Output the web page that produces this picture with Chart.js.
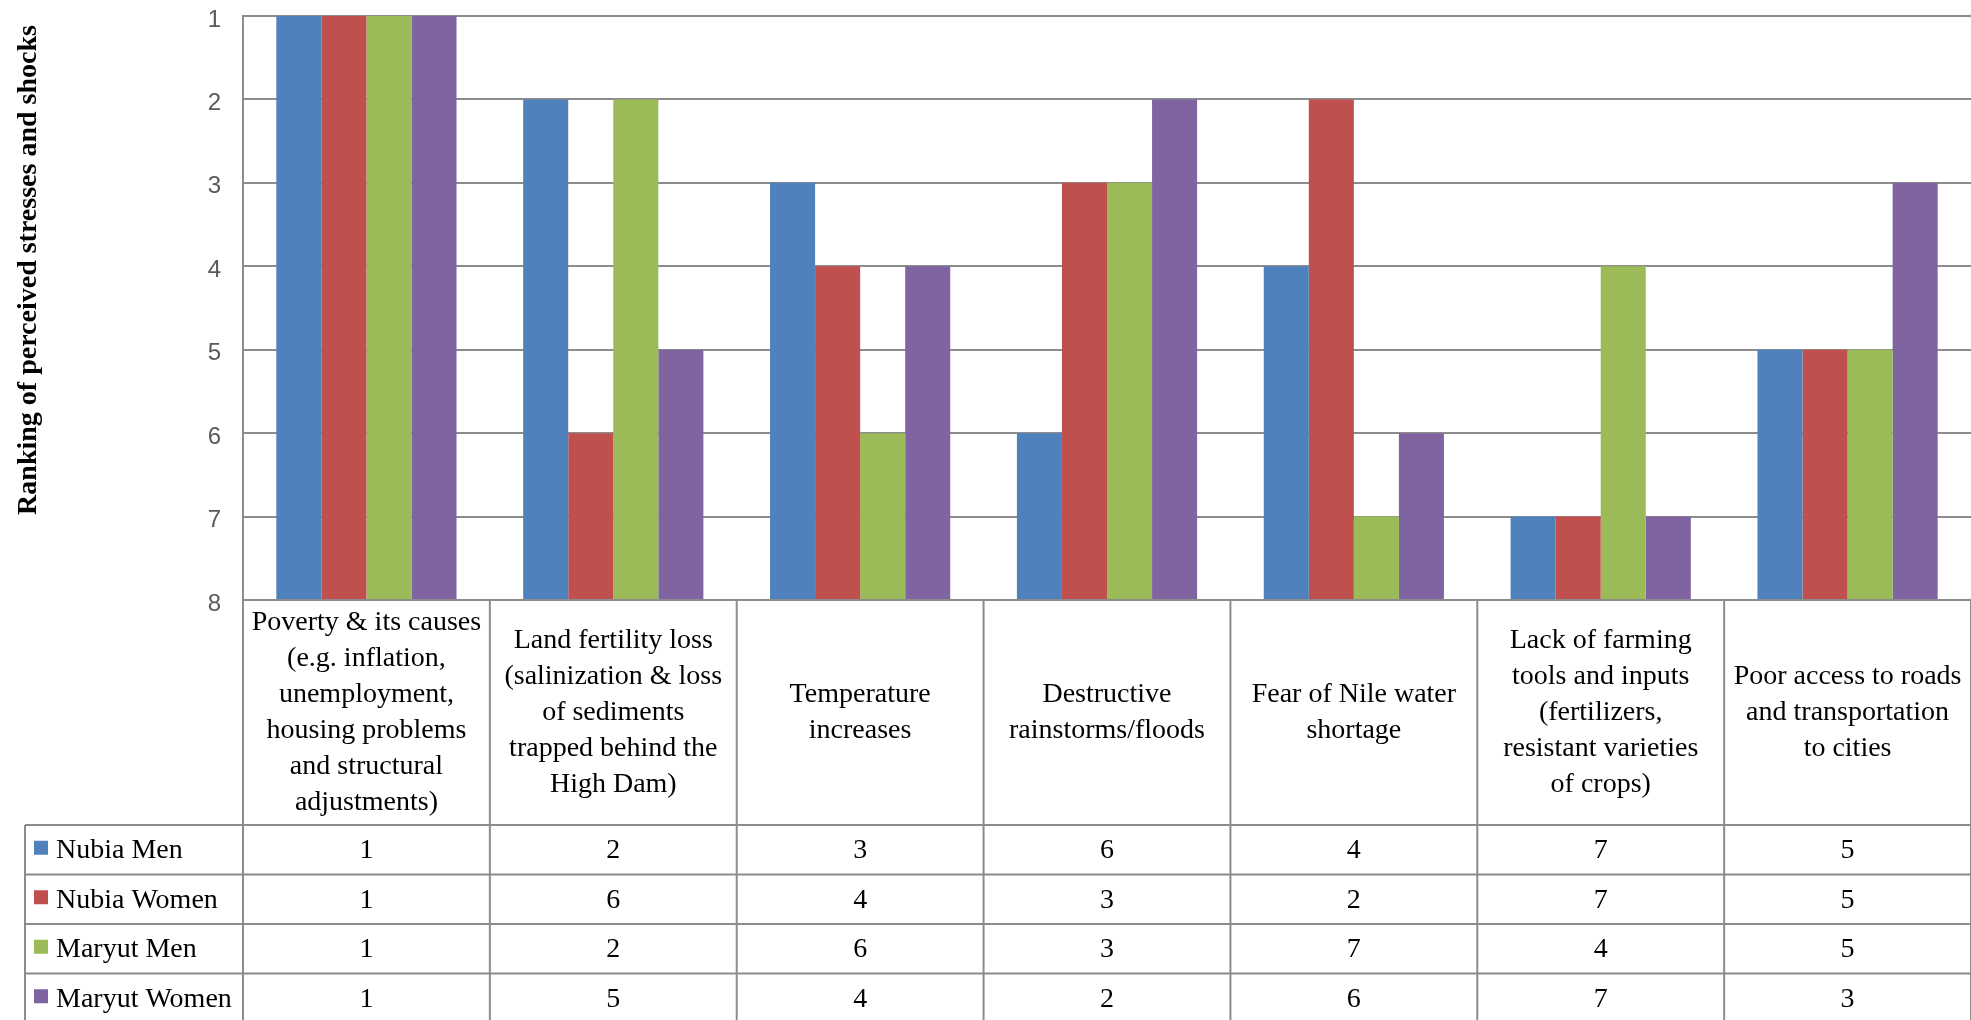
<!DOCTYPE html>
<html>
<head>
<meta charset="utf-8">
<title>Ranking of perceived stresses and shocks</title>
<script src="https://cdn.jsdelivr.net/npm/chart.js@4.4.1/dist/chart.umd.min.js"></script>
<style>
  body { margin: 0; background: #ffffff; }
  canvas { display: block; }
</style>
</head>
<body>
<canvas id="rank-chart" width="1971" height="1020"></canvas>
<script>
// ---------------------------------------------------------------
// --- 1. DATA ---
// ---------------------------------------------------------------
const categories = [
  ['Poverty & its causes', '(e.g. inflation,', 'unemployment,', 'housing problems', 'and structural', 'adjustments)'],
  ['Land fertility loss', '(salinization & loss', 'of sediments', 'trapped behind the', 'High Dam)'],
  ['Temperature', 'increases'],
  ['Destructive', 'rainstorms/floods'],
  ['Fear of Nile water', 'shortage'],
  ['Lack of farming', 'tools and inputs', '(fertilizers,', 'resistant varieties', 'of crops)'],
  ['Poor access to roads', 'and transportation', 'to cities']
];

const nubiaMen    = [1, 2, 3, 6, 4, 7, 5];
const nubiaWomen  = [1, 6, 4, 3, 2, 7, 5];
const maryutMen   = [1, 2, 6, 3, 7, 4, 5];
const maryutWomen = [1, 5, 4, 2, 6, 7, 3];

const rankTicks = [1, 2, 3, 4, 5, 6, 7, 8];
const yTitle = 'Ranking of perceived stresses and shocks';

// ---------------------------------------------------------------
// --- 2. DATA TABLE UNDER THE PLOT (drawn on the chart canvas) ---
// ---------------------------------------------------------------
const lineGray = '#8c8c8c';
const serif = '"Liberation Serif", "Times New Roman", serif';

const dataTablePlugin = {
  id: 'dataTable',
  afterDraw(chart) {
    const ctx = chart.ctx;
    const area = chart.chartArea;
    const xs = chart.scales.x;
    const sets = chart.data.datasets;
    const n = chart.data.labels.length;
    const colW = (area.right - area.left) / n;

    const headerBottom = 825;
    const rowH = 49.5;
    const legendLeft = 25;
    const tableBottom = headerBottom + rowH * sets.length;

    const line = (x1, y1, x2, y2) => {
      ctx.beginPath();
      ctx.moveTo(x1, y1);
      ctx.lineTo(x2, y2);
      ctx.stroke();
    };

    ctx.save();
    ctx.strokeStyle = lineGray;
    ctx.lineWidth = 2;

    // column borders
    for (let i = 0; i <= n; i++) {
      const px = area.left + i * colW;
      line(px, area.bottom, px, tableBottom);
    }
    line(legendLeft, headerBottom, legendLeft, tableBottom);

    // row borders
    for (let r = 0; r <= sets.length; r++) {
      const py = headerBottom + r * rowH;
      line(legendLeft, py, area.right, py);
    }

    // category headers
    ctx.font = '28px ' + serif;
    ctx.fillStyle = '#000000';
    ctx.textAlign = 'center';
    ctx.textBaseline = 'middle';
    const headerMid = (area.bottom + headerBottom) / 2;
    chart.data.labels.forEach((lines, i) => {
      const cx = xs.getPixelForValue(i);
      lines.forEach((t, k) => {
        ctx.fillText(t, cx, headerMid + (k - (lines.length - 1) / 2) * 36);
      });
    });

    // series rows: legend key + values
    sets.forEach((ds, r) => {
      const cy = headerBottom + r * rowH + rowH / 2;
      ctx.fillStyle = ds.backgroundColor;
      ctx.fillRect(34, cy - 9, 14, 14);

      ctx.fillStyle = '#000000';
      ctx.textAlign = 'left';
      ctx.fillText(ds.label, 56, cy + 1);

      ctx.textAlign = 'center';
      ds.data.forEach((v, i) => {
        ctx.fillText(String(v), xs.getPixelForValue(i), cy + 1);
      });
    });

    // vertical axis title
    ctx.translate(29, 270);
    ctx.rotate(-Math.PI / 2);
    ctx.font = 'bold 28px ' + serif;
    ctx.textAlign = 'center';
    ctx.fillText(yTitle, 0, 0);

    ctx.restore();
  }
};

// ---------------------------------------------------------------
// --- 3. CHART ---
// ---------------------------------------------------------------
const chartCanvas = document.getElementById('rank-chart');

const barSet = (label, data, color) => ({
  label: label,
  data: data,
  backgroundColor: color,
  borderWidth: 0,
  base: 8, // bars rise from rank 8 toward rank 1
  barPercentage: 1,
  categoryPercentage: 0.73
});

new Chart(chartCanvas, {
  type: 'bar',
  data: {
    labels: categories,
    datasets: [
      barSet('Nubia Men', nubiaMen, '#4f81bd'),
      barSet('Nubia Women', nubiaWomen, '#c0504d'),
      barSet('Maryut Men', maryutMen, '#9bbb59'),
      barSet('Maryut Women', maryutWomen, '#8064a2')
    ]
  },
  options: {
    responsive: false,
    animation: false,
    layout: {
      padding: { top: 16, left: 0, right: 0, bottom: 420 }
    },
    plugins: {
      legend: { display: false },
      tooltip: { enabled: false }
    },
    scales: {
      x: {
        display: false
      },
      y: {
        reverse: true,
        min: 1,
        max: 8,
        afterBuildTicks: (scale) => {
          scale.ticks = rankTicks.map(v => ({ value: v }));
        },
        afterFit: (scale) => {
          scale.width = 243;
          scale.paddingTop = 0;
          scale.paddingBottom = 0;
        },
        ticks: {
          padding: 22,
          labelOffset: 4,
          color: '#595959',
          font: { family: '"Liberation Sans", Arial, sans-serif', size: 24 }
        },
        grid: {
          color: lineGray,
          lineWidth: 2,
          drawTicks: false
        },
        border: {
          color: lineGray,
          width: 2
        }
      }
    }
  },
  plugins: [dataTablePlugin]
});
</script>
</body>
</html>
